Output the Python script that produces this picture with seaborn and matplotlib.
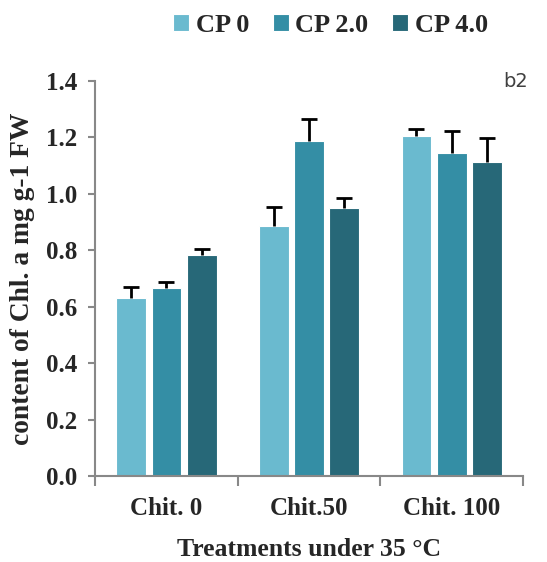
import numpy as np
import pandas as pd
import matplotlib.pyplot as plt
import seaborn as sns

# values
treatments = ["Chit. 0", "Chit.50", "Chit. 100"]
cp_levels = ["CP 0", "CP 2.0", "CP 4.0"]
cp0 = [0.632, 0.887, 1.205]
cp2 = [0.665, 1.188, 1.146]
cp4 = [0.784, 0.949, 1.113]
cp0_err = [0.039, 0.065, 0.025]
cp2_err = [0.024, 0.078, 0.076]
cp4_err = [0.020, 0.036, 0.085]

colors = ["#6ABACF", "#348EA5", "#276878"]

df = pd.DataFrame({
    "Treatment": treatments * 3,
    "CP": [c for c in cp_levels for _ in treatments],
    "value": cp0 + cp2 + cp4,
    "err": cp0_err + cp2_err + cp4_err,
})

sns.set_style("white")
plt.rcParams["font.family"] = ["Liberation Serif", "DejaVu Serif"]
plt.rcParams["font.weight"] = "bold"

fig = plt.figure(figsize=(5.47, 5.62), dpi=100)
ax = fig.add_axes([0.174, 0.153, 0.782, 0.703])

sns.barplot(data=df, x="Treatment", y="value", hue="CP", order=treatments,
            hue_order=cp_levels, palette=colors, saturation=1, width=0.74, gap=0.15,
            edgecolor="white", linewidth=0.8, errorbar=None, ax=ax)

# upper error bars only (drop the lower cap)
for cont, cp in zip(ax.containers, cp_levels):
    sub = df[df["CP"] == cp].set_index("Treatment").loc[treatments]
    xs = [b.get_x() + b.get_width() / 2 for b in cont]
    errs = sub["err"].values
    eb = ax.errorbar(xs, sub["value"].values, yerr=[np.zeros(len(errs)), errs],
                     fmt="none", ecolor="black", elinewidth=2, capsize=6, capthick=2)
    eb[1][0].remove()

ax.set_ylim(0, 1.4)
ax.set_xlim(-0.5, 2.5)
ax.set_yticks(np.arange(0, 1.41, 0.2))
ax.set_yticklabels([f"{v:.1f}" for v in np.arange(0, 1.41, 0.2)])
ax.tick_params(axis="y", labelsize=18, length=5, width=1.5, color="#888888", left=True, pad=8)
ax.tick_params(axis="x", which="major", labelsize=18, length=0, pad=15)
ax.set_xticks([-0.5, 0.5, 1.5, 2.5], minor=True)
ax.tick_params(axis="x", which="minor", length=7, width=1.5, color="#888888", bottom=True)
for lab in ax.get_xticklabels() + ax.get_yticklabels():
    lab.set_fontweight("bold")

sns.despine(ax=ax)
for s in ["left", "bottom"]:
    ax.spines[s].set_color("#888888")
    ax.spines[s].set_linewidth(1.5)

ax.set_xlabel("Treatments under 35 \u00b0C", fontsize=18.5, fontweight="bold", labelpad=13)
ax.set_ylabel("content of Chl. a mg g-1 FW", fontsize=19.8, fontweight="bold", labelpad=8)

fig.text(528 / 547, 1 - 72 / 562, "b2", ha="right", va="top",
         fontsize=14, color="#404040", family="DejaVu Sans", fontweight="normal")

ax.legend(loc="upper center", bbox_to_anchor=(0.55, 1.23), ncol=3, frameon=False,
          prop={"size": 19, "weight": "bold"}, handlelength=0.6, handleheight=0.6,
          handletextpad=0.25, columnspacing=0.9)

fig.savefig("out.png", dpi=100)
